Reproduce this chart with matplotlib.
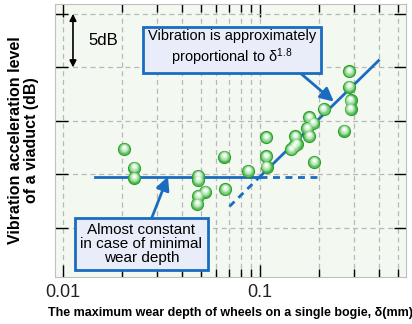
import matplotlib
matplotlib.use("Agg")
import matplotlib.pyplot as plt
import numpy as np

plt.rcParams['font.family'] = ['Liberation Sans', 'DejaVu Sans']
plt.rcParams['mathtext.fontset'] = 'custom'
plt.rcParams['mathtext.rm'] = 'Liberation Sans'
plt.rcParams['mathtext.it'] = 'Liberation Sans'

# measured wear depth (mm) and viaduct vibration level (dB, relative)
wear_depth = [0.0205, 0.0230, 0.0230, 0.0486, 0.0486, 0.0528, 0.0486, 0.0481,
              0.0659, 0.0667, 0.0873, 0.1076, 0.1072, 0.1079, 0.1445, 0.1489,
              0.1532, 0.1514, 0.1774, 0.1733, 0.1858, 0.1779, 0.2105, 0.1880,
              0.268, 0.284, 0.284, 0.288, 0.288]
vib_level = [7.38, 5.64, 4.70, 4.86, 4.49, 3.39, 2.99, 2.24,
             6.66, 3.62, 5.33, 8.46, 6.68, 5.73, 7.34, 7.62,
             7.85, 8.55, 10.33, 9.32, 9.81, 8.60, 11.10, 6.17,
             9.08, 14.63, 13.20, 11.92, 11.12]

# trend model: flat level below 0.1 mm, rising as delta^1.8 above it
flat_level = 4.8
knee = 0.1
slope_db = 18.0
flat_x = [0.0145, 0.1]
flat_dash_x = [0.1, 0.2]
rise_x = [0.1, 0.4]
rise_dash_x = [0.07, 0.1]

blue = '#1a6cc0'
fig = plt.figure(figsize=(4.12, 3.24), dpi=100)
ax = fig.add_axes([0.1335, 0.145, 0.852, 0.843])
ax.set_facecolor('#f3f8f1')
ax.set_xscale('log')
ax.set_xlim(0.00911, 0.551)
ax.set_ylim(-4.58, 20.93)

ax.set_yticks([0, 5, 10, 15, 20])
ax.set_yticklabels([])
ax.set_xticks([0.01, 0.1])
ax.set_xticklabels(['0.01', '0.1'], fontsize=13, color='#222222')
ax.xaxis.set_minor_formatter(matplotlib.ticker.NullFormatter())
ax.tick_params(axis='x', which='major', direction='in', length=9, top=True, width=1, pad=5)
ax.tick_params(axis='x', which='minor', direction='in', length=6, top=True, width=1)
ax.tick_params(axis='y', which='major', direction='in', length=9, right=True, width=1)
ax.grid(True, which='both', axis='x', ls=(0, (4, 3)), color='#b8b8b8', lw=0.9)
ax.grid(True, which='major', axis='y', ls=(0, (4, 3)), color='#b8b8b8', lw=0.9)
for s in ax.spines.values():
    s.set_color('#c0c0c0')

def level(x):
    return flat_level + slope_db * np.log10(np.asarray(x) / knee)

ax.plot(flat_x, [flat_level, flat_level], color=blue, lw=2, zorder=3)
ax.plot(flat_dash_x, [flat_level, flat_level], color=blue, lw=2, ls=(0, (2.5, 2)), zorder=3)
ax.plot(rise_x, level(rise_x), color=blue, lw=2, zorder=3)
ax.plot(rise_dash_x, level(rise_dash_x), color=blue, lw=2, ls=(0, (2.5, 2)), zorder=3)

# shaded green balls
ax.scatter(wear_depth, vib_level, s=90, color='#269a26', zorder=4, lw=0)
for i, f in enumerate(np.linspace(0, 1, 9)):
    size = 68 * (1 - f) ** 1.4 + 3
    c = np.array([0.26, 0.70, 0.26]) * (1 - f) ** 1.4 + np.array([0.96, 1.0, 0.96]) * (1 - (1 - f) ** 1.4)
    ax.scatter(np.array(wear_depth) * (1 - 0.006 * f), np.array(vib_level) + 0.2 * f,
               s=size, color=c, zorder=5 + i, lw=0)

# 5 dB scale bar
ax.annotate('', xy=(0.01124, 15), xytext=(0.01124, 20),
            arrowprops=dict(arrowstyle='<|-|>', color='black', lw=1.2,
                            mutation_scale=10, shrinkA=0, shrinkB=0))
ax.text(0.0134, 17.5, '5dB', fontsize=12, va='center', ha='left')

box = dict(boxstyle='square,pad=0.35', fc='#e8edf9', ec=blue, lw=2)
arrow = dict(arrowstyle='-|>', color=blue, lw=2, mutation_scale=20, shrinkA=0, shrinkB=0)

ax.annotate('', xy=(0.237, 11.8), xytext=(0.157, 14.6), arrowprops=arrow, zorder=20)
ax.text(0.072, 16.75, 'Vibration is approximately\nproportional to δ$^{1.8}$',
        fontsize=10.5, ha='center', va='center', linespacing=1.2, bbox=box, zorder=21)

ax.annotate('', xy=(0.0341, 4.8), xytext=(0.0283, 1.0), arrowprops=arrow, zorder=20)
ax.text(0.0250, -1.5, 'Almost constant\nin case of minimal\nwear depth',
        fontsize=11, ha='center', va='center', linespacing=1.0, bbox=box, zorder=21)

ax.set_ylabel('Vibration acceleration level\nof a viaduct (dB)', fontsize=11.5,
              fontweight='bold', labelpad=8, linespacing=1.1)
ax.set_xlabel('The maximum wear depth of wheels on a single bogie, δ(mm)',
              fontsize=9, fontweight='bold', labelpad=4)

fig.savefig('out.png', dpi=100)
